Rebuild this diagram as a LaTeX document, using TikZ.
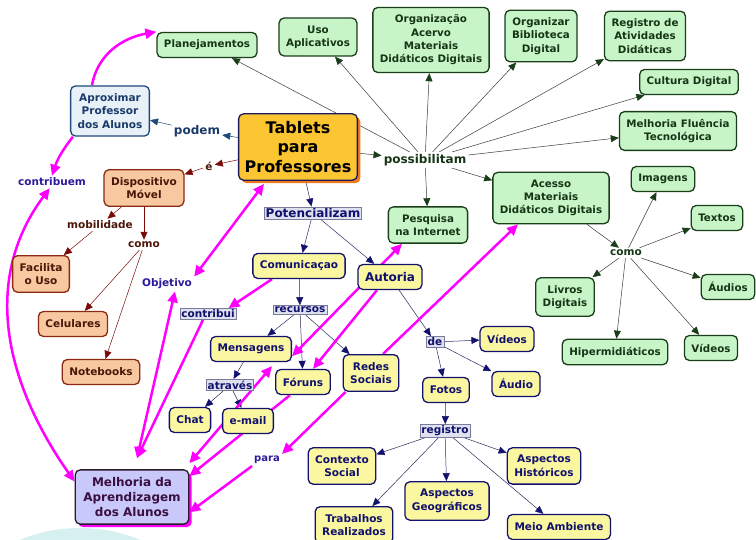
\documentclass[tikz,border=0pt]{standalone}
\usepackage{fontspec}
\setmainfont{DejaVu Sans}
\usetikzlibrary{arrows.meta,shadows,backgrounds}

\definecolor{gfill}{HTML}{C8F5C8}
\definecolor{gborder}{HTML}{1A3D1A}
\definecolor{gtext}{HTML}{153515}
\definecolor{garrow}{HTML}{3A3A3A}
\definecolor{yfill}{HTML}{FBF7A0}
\definecolor{yborder}{HTML}{12126E}
\definecolor{ytext}{HTML}{10106E}
\definecolor{yarrow}{HTML}{2A2A5A}
\definecolor{rfill}{HTML}{F8C8A0}
\definecolor{rborder}{HTML}{8A2A10}
\definecolor{rtext}{HTML}{4A1608}
\definecolor{rarrow}{HTML}{7A0A0A}
\definecolor{afill}{HTML}{E8F0F8}
\definecolor{aborder}{HTML}{1F4A7A}
\definecolor{atext}{HTML}{1A3A6A}
\definecolor{mfill}{HTML}{C8C8FA}
\definecolor{mborder}{HTML}{2A1A2A}
\definecolor{mtext}{HTML}{3A1040}
\definecolor{tfill}{HTML}{FCC532}
\definecolor{tborder}{HTML}{1A1A5A}
\definecolor{tshadow}{HTML}{F07820}
\definecolor{magline}{HTML}{FF00FF}
\definecolor{lkfill}{HTML}{DFE1EE}
\definecolor{lkborder}{HTML}{7A7A9A}
\definecolor{ptext}{HTML}{2A1A9A}
\definecolor{bgcyan}{HTML}{D6F0F0}

\begin{document}
\begin{tikzpicture}[
		x=1pt, y=1pt,
		concept/.style={rounded corners=5pt, line width=1.3pt, align=center, inner xsep=7pt, inner ysep=7.5pt, minimum height=25pt, font=\fontsize{10.3}{13.3}\selectfont\bfseries},
		concg/.style={concept, draw=gborder, fill=gfill, text=gtext},
		concy/.style={concept, draw=yborder, fill=yfill, text=ytext, font=\fontsize{10.5}{13.5}\selectfont\bfseries},
		concr/.style={concept, draw=rborder, fill=rfill, text=rtext, font=\fontsize{10.5}{13.5}\selectfont\bfseries},
		linkbox/.style={draw=lkborder, fill=lkfill, line width=0.6pt, inner xsep=1.5pt, inner ysep=1.5pt, text=ytext, font=\fontsize{10.5}{13}\selectfont\bfseries},
		link/.style={inner sep=2pt, font=\fontsize{10.5}{13}\selectfont\bfseries},
		arrg/.style={draw=garrow, line width=0.5pt, -{Triangle[length=8pt,width=7pt,color=gborder]}},
		arry/.style={draw=yarrow, line width=0.5pt, -{Triangle[length=8pt,width=7pt,color=yborder]}},
		arrr/.style={draw=rarrow, line width=0.5pt, -{Triangle[length=8pt,width=7pt,color=rarrow]}},
		arra/.style={draw=aborder, line width=0.5pt, -{Triangle[length=8pt,width=7pt,color=aborder]}},
		arrm/.style={draw=magline, line width=2.5pt, >={Triangle[length=11pt,width=10pt]}}
	]

		\useasboundingbox (0,0) rectangle (756,540);

		% background blob
		\begin{scope}[on background layer]
			\fill[bgcyan] (80,-144) circle[radius=156];
		\end{scope}

		% central concept
		\draw (298,393) node[concept, draw=tborder, fill=tfill, text=black, inner xsep=6pt, font=\fontsize{16}{19.5}\selectfont\bfseries, drop shadow={shadow xshift=3pt, shadow yshift=-3pt, fill=tshadow, opacity=1}] (tablets) {Tablets\\para\\Professores};

		% possibilitam
		\draw (425,380) node[link, text=gtext, font=\fontsize{12}{14}\selectfont\bfseries] (possib) {possibilitam};
		\draw (207,495) node[concg] (plan) {Planejamentos};
		\draw (318,503) node[concg] (uso) {Uso\\Aplicativos};
		\draw (431,500) node[concg] (acervo) {Organização\\Acervo\\Materiais\\Didáticos Digitais};
		\draw (541,504) node[concg] (biblio) {Organizar\\Biblioteca\\Digital};
		\draw (645,504) node[concg] (registroativ) {Registro de\\Atividades\\Didáticas};
		\draw (689,458) node[concg] (cultura) {Cultura Digital};
		\draw (678,409) node[concg] (fluencia) {Melhoria Fluência\\Tecnológica};
		\draw (428,315) node[concg] (pesquisa) {Pesquisa\\na Internet};
		\draw (551,342) node[concg] (acesso) {Acesso\\Materiais\\Didáticos Digitais};

		% como (materiais)
		\draw (626,287) node[link, text=gtext] (comog) {como};
		\draw (663,361) node[concg] (imagens) {Imagens};
		\draw (717,322) node[concg] (textos) {Textos};
		\draw (728,253) node[concg] (audios) {Áudios};
		\draw (565,243) node[concg] (livros) {Livros\\Digitais};
		\draw (615,188) node[concg] (hiper) {Hipermidiáticos};
		\draw (711,192) node[concg] (videosg) {Vídeos};

		% podem
		\draw (197,409) node[link, text=atext, font=\fontsize{12}{14}\selectfont\bfseries] (podem) {podem};
		\draw (110,429) node[concept, draw=aborder, fill=afill, text=atext, font=\fontsize{10.5}{13.5}\selectfont\bfseries] (aproximar) {Aproximar\\Professor\\dos Alunos};

		% dispositivo movel
		\draw (209,374) node[link, text=rtext] (e) {é};
		\draw (144,352) node[concr] (dispositivo) {Dispositivo\\Móvel};
		\draw (100,315) node[link, text=rtext] (mobil) {mobilidade};
		\draw (144,295) node[link, text=rtext] (comor) {como};
		\draw (41,266) node[concr] (facilita) {Facilita\\o Uso};
		\draw (73,216) node[concr] (celulares) {Celulares};
		\draw (101,168) node[concr] (notebooks) {Notebooks};

		% potencializam
		\draw (313,327) node[linkbox, font=\fontsize{12}{14}\selectfont\bfseries] (potenc) {Potencializam};
		\draw (299,274) node[concy] (comunic) {Comunicaçao};
		\draw (390,263) node[concy, font=\fontsize{12}{14}\selectfont\bfseries] (autoria) {Autoria};
		\draw (300,230) node[linkbox] (recursos) {recursos};
		\draw (208,226) node[linkbox] (contribui) {contribui};
		\draw (251,191) node[concy] (mensagens) {Mensagens};
		\draw (303,158) node[concy] (foruns) {Fóruns};
		\draw (371,167) node[concy] (redes) {Redes\\Sociais};
		\draw (230,155) node[linkbox] (atraves) {através};
		\draw (190,120) node[concy] (chat) {Chat};
		\draw (248,119) node[concy] (email) {e-mail};
		\draw (435,198) node[linkbox] (de) {de};
		\draw (507,201) node[concy] (videosy) {Vídeos};
		\draw (516,156) node[concy] (audio) {Áudio};
		\draw (446,150) node[concy] (fotos) {Fotos};
		\draw (445,109) node[linkbox] (registro) {registro};
		\draw (342,74) node[concy] (contexto) {Contexto\\Social};
		\draw (544,74) node[concy] (historicos) {Aspectos\\Históricos};
		\draw (447,39) node[concy] (geograf) {Aspectos\\Geográficos};
		\draw (354,15) node[concy] (trabalhos) {Trabalhos\\Realizados};
		\draw (559,13) node[concy] (meio) {Meio Ambiente};

		% objetivo
		\draw (167,256) node[link, text=ptext] (objetivo) {Objetivo};
		\draw (52,358) node[link, text=ptext] (contribuem) {contribuem};
		\draw (267,80) node[link, text=ptext, font=\fontsize{10}{12}\selectfont\bfseries] (para) {para};
		\draw (132,43) node[concept, draw=mborder, fill=mfill, text=mtext, inner xsep=8pt, font=\fontsize{12}{15}\selectfont\bfseries, drop shadow={shadow xshift=3pt, shadow yshift=-3pt, fill=magline, opacity=1}] (melhoria) {Melhoria da\\Aprendizagem\\dos Alunos};

		\begin{scope}[on background layer]
			% green links
			\draw[arrg] (tablets) -- (possib);
			\draw[arrg] (possib) -- (plan);
			\draw[arrg] (possib) -- (uso);
			\draw[arrg] (possib) -- (acervo);
			\draw[arrg] (possib) -- (biblio);
			\draw[arrg] (possib) -- (registroativ);
			\draw[arrg] (possib) -- (cultura);
			\draw[arrg] (possib) -- (fluencia);
			\draw[arrg] (possib) -- (pesquisa);
			\draw[arrg] (possib) -- (acesso);
			\draw[arrg] (acesso) -- (comog);
			\draw[arrg] (comog) -- (imagens);
			\draw[arrg] (comog) -- (textos);
			\draw[arrg] (comog) -- (audios);
			\draw[arrg] (comog) -- (videosg);
			\draw[arrg] (comog) -- (hiper);
			\draw[arrg] (comog) -- (livros);

			% podem
			\draw[arra] (tablets) -- (podem);
			\draw[arra] (podem) -- (aproximar);

			% red links
			\draw[arrr] (tablets) -- (e);
			\draw[arrr] (e) -- (dispositivo);
			\draw[arrr] (dispositivo) -- (mobil);
			\draw[arrr] (mobil) -- (facilita);
			\draw[arrr] (dispositivo) -- (comor);
			\draw[arrr] (comor) -- (celulares);
			\draw[arrr] (comor) -- (notebooks);

			% navy links
			\draw[arry] (tablets) -- (potenc);
			\draw[arry] (potenc) -- (comunic);
			\draw[arry] (potenc) -- (autoria);
			\draw[arry] (comunic) -- (recursos);
			\draw[arry] (recursos) -- (mensagens);
			\draw[arry] (recursos) -- (foruns);
			\draw[arry] (recursos) -- (redes);
			\draw[arry] (mensagens) -- (atraves);
			\draw[arry] (atraves) -- (chat);
			\draw[arry] (atraves) -- (email);
			\draw[arry] (autoria) -- (de);
			\draw[arry] (de) -- (videosy);
			\draw[arry] (de) -- (audio);
			\draw[arry] (de) -- (fotos);
			\draw[arry] (fotos) -- (registro);
			\draw[arry] (registro) -- (contexto);
			\draw[arry] (registro) -- (trabalhos);
			\draw[arry] (registro) -- (geograf);
			\draw[arry] (registro) -- (historicos);
			\draw[arry] (registro) -- (meio);

			% magenta links
			\draw[arrm,->] ([xshift=-18pt]aproximar.north) to[out=80,in=190] (plan.north west);
			\draw[arrm,->] ([xshift=3pt]aproximar.south west) to[bend right=10] (contribuem.north);
			\draw[arrm,<->] (contribuem.250) .. controls (-15,265) and (0,165) .. (melhoria.165);
			\draw[arrm,<->] ([xshift=-34pt,yshift=-3pt]tablets.south) -- (objetivo.north east);
			\draw[arrm,<->] ([xshift=8pt]objetivo.south) -- ([xshift=5pt,yshift=11pt]melhoria.north);
			\draw[arrm,->] ([xshift=-5pt]contribui.south) -- ([xshift=5pt,yshift=11pt]melhoria.north);
			\draw[arrm,->] ([xshift=-27pt]comunic.south) -- ([xshift=-8pt]contribui.north east);
			\draw[arrm,<->] (mensagens.-10) -- ([xshift=-26pt]pesquisa.south);
			\draw[arrm,<->] ([yshift=6pt]melhoria.north east) -- ([xshift=21pt,yshift=-4pt]mensagens.south);
			\draw[arrm,->] ([xshift=-13pt]autoria.south) -- ([xshift=10pt]foruns.north);
			\draw[arrm,->] ([xshift=-13pt]foruns.south) -- (melhoria.20);
			\draw[arrm,->] ([xshift=3pt]redes.south west) -- (para.north east);
			\draw[arrm,->] (para.south west) -- (melhoria.-15);
			\draw[arrm,->] ([xshift=12pt]redes.north) -- ([xshift=-33pt]acesso.south);
		\end{scope}

	\end{tikzpicture}
\end{document}
